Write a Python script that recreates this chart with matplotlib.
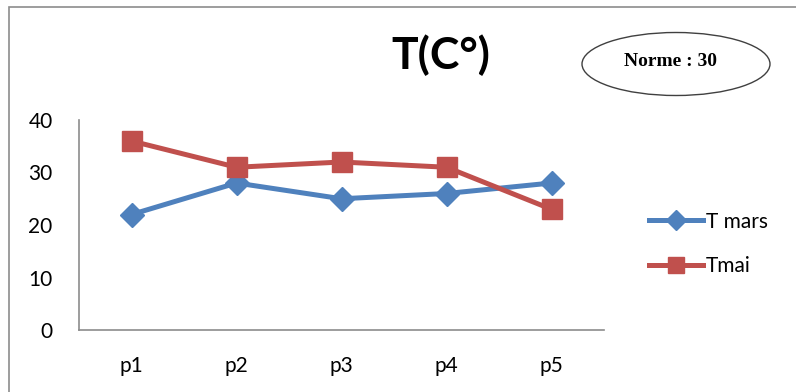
import matplotlib.pyplot as plt
from matplotlib.patches import Ellipse, Rectangle

points = ["p1", "p2", "p3", "p4", "p5"]
t_mars = [22, 28, 25, 26, 28]
t_mai = [36, 31, 32, 31, 23]
y_ticks = [0, 10, 20, 30, 40]

BLUE = "#4F81BD"
RED = "#C0504D"
W, H = 796, 392

plt.rcParams["font.family"] = ["Lato", "DejaVu Sans"]

fig = plt.figure(figsize=(W / 100, H / 100), dpi=100)

# outer frame of the chart area
fig.patches.append(Rectangle((9 / W, -0.1), 1.1, (H - 7) / H + 0.1,
                             transform=fig.transFigure, fill=False,
                             edgecolor="#8c8c8c", linewidth=1.2))

ax = fig.add_axes([79 / W, (H - 330) / H, (604 - 79) / W, 210 / H])
x = range(len(points))
ax.plot(x, t_mars, color=BLUE, linewidth=3.6, marker="D", markersize=12,
        label="T mars")
ax.plot(x, t_mai, color=RED, linewidth=3.6, marker="s", markersize=14,
        label="Tmai")

ax.set_xlim(-0.5, len(points) - 0.5)
ax.set_ylim(0, 40)
ax.set_xticks(list(x))
ax.set_xticklabels(points)
ax.set_yticks(y_ticks)
ax.tick_params(length=0, labelsize=15, pad=19)
for side in ["top", "right"]:
    ax.spines[side].set_visible(False)
for side in ["left", "bottom"]:
    ax.spines[side].set_color("#8c8c8c")
    ax.spines[side].set_linewidth(1.2)

ax.legend(loc="center left", bbox_to_anchor=(630 / W, 1 - 244 / H),
          bbox_transform=fig.transFigure, frameon=False, fontsize=15,
          handlelength=2.6, handletextpad=0.15, labelspacing=1.2,
          markerscale=0.85)

fig.text(441 / W, 1 - 55 / H, "T(C°)", fontsize=32, fontweight="bold",
         ha="center", va="center")

fig.patches.append(Ellipse((676 / W, 1 - 64 / H), 188 / W, 63 / H,
                           transform=fig.transFigure, fill=False,
                           edgecolor="#404040", linewidth=1.0))
fig.text(670 / W, 1 - 62 / H, "Norme : 30", fontsize=14, fontweight="bold",
         family="Liberation Serif", ha="center", va="center")

fig.savefig("out.png", dpi=100)
